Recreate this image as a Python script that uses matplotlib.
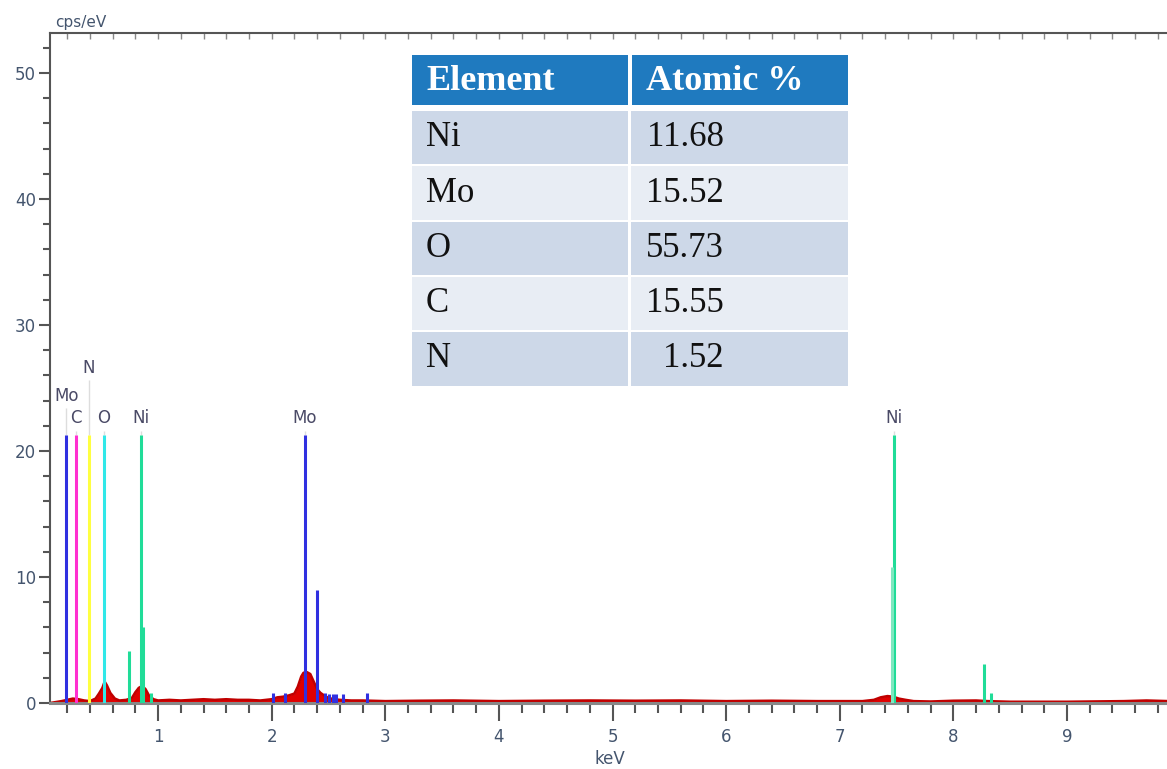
import matplotlib
matplotlib.use("Agg")
import matplotlib.pyplot as plt
from matplotlib.patches import Rectangle
from matplotlib.ticker import MultipleLocator

# ---------------- data ----------------
# continuum / measured spectrum (keV, cps/eV) read from the picture
spec_kev = [0.05, 0.15, 0.20, 0.25, 0.30, 0.35, 0.40, 0.45, 0.48, 0.51, 0.53, 0.55, 0.58, 0.62,
            0.66, 0.72, 0.77, 0.80, 0.83, 0.86, 0.89, 0.92, 0.96, 1.00, 1.10, 1.20, 1.30, 1.40,
            1.50, 1.60, 1.70, 1.80, 1.90, 2.00, 2.05, 2.10, 2.15, 2.20, 2.23, 2.26, 2.28, 2.31,
            2.34, 2.37, 2.40, 2.43, 2.47, 2.50, 2.55, 2.60, 2.70, 2.80, 3.00, 3.30, 3.60, 4.00,
            4.40, 4.80, 5.20, 5.60, 6.00, 6.40, 6.80, 7.20, 7.30, 7.36, 7.42, 7.47, 7.52, 7.58,
            7.65, 7.80, 8.00, 8.20, 8.30, 8.50, 9.00, 9.50, 9.70, 9.90]
spec_cps = [0.00, 0.15, 0.25, 0.35, 0.30, 0.20, 0.15, 0.35, 0.75, 1.20, 1.70, 1.40, 0.80, 0.35,
            0.20, 0.25, 0.40, 0.85, 1.20, 1.35, 1.10, 0.60, 0.30, 0.20, 0.25, 0.20, 0.25, 0.30,
            0.25, 0.30, 0.25, 0.25, 0.20, 0.30, 0.45, 0.50, 0.60, 0.75, 1.30, 2.10, 2.40, 2.45,
            2.30, 1.70, 1.10, 0.80, 0.55, 0.40, 0.30, 0.25, 0.20, 0.20, 0.15, 0.18, 0.20, 0.15,
            0.18, 0.20, 0.18, 0.20, 0.15, 0.18, 0.15, 0.15, 0.25, 0.45, 0.55, 0.50, 0.35, 0.25,
            0.15, 0.12, 0.18, 0.20, 0.15, 0.10, 0.10, 0.15, 0.20, 0.15]

# element marker lines
mark_kev = [0.193, 0.277, 0.392, 0.520, 0.851, 0.743, 0.869, 0.940,
            2.293, 2.395, 2.015, 2.120, 2.470, 2.505, 2.540, 2.570, 2.625, 2.835,
            7.478, 7.461, 8.265, 8.330]
mark_h = [21.3, 21.3, 21.3, 21.3, 21.3, 4.1, 6.0, 0.8,
          21.3, 9.0, 0.8, 0.8, 0.8, 0.7, 0.7, 0.7, 0.7, 0.8,
          21.3, 10.8, 3.1, 0.8]
mark_el = ["Mo", "C", "N", "O", "Ni", "Ni", "Ni", "Ni",
           "Mo", "Mo", "Mo", "Mo", "Mo", "Mo", "Mo", "Mo", "Mo", "Mo",
           "Ni", "Ni2", "Ni", "Ni"]

# peak labels
lab_text = ["Mo", "N", "C", "O", "Ni", "Mo", "Ni"]
lab_kev = [0.193, 0.392, 0.277, 0.520, 0.851, 2.293, 7.478]
lab_y = [24.4, 26.6, 22.6, 22.6, 22.6, 22.6, 22.6]

# table
tab_header = ["Element", "Atomic %"]
tab_elements = ["Ni", "Mo", "O", "C", "N"]
tab_atomic = ["11.68", "15.52", "55.73", "15.55", "1.52"]

# ---------------- style ----------------
el_color = {"Mo": "#3030e0", "C": "#ff30d0", "N": "#ffff40", "O": "#30e8e8",
            "Ni": "#20dc98", "Ni2": "#7fe8c0"}
tick_col = "#44556e"

W, H = 1167, 769
fig = plt.figure(figsize=(W / 100, H / 100), dpi=100)
ax = fig.add_axes([50 / W, (H - 703) / H, (W - 50) / W, (703 - 33) / H])

ax.set_xlim(0.049, 9.88)
ax.set_ylim(0, 53.17)

# spectrum
ax.fill_between(spec_kev, 0, spec_cps, color="#e00000", lw=0, zorder=2)
ax.plot(spec_kev, spec_cps, color="#c00000", lw=1.8, zorder=2)

# faint guide lines from main markers to labels
for k, y in zip(lab_kev, lab_y):
    ax.vlines(k, 21.3, y - 1.0, color="#dddddd", lw=1, zorder=1)

# marker lines
for k, h, e in zip(mark_kev, mark_h, mark_el):
    ax.vlines(k, 0, h, color=el_color[e], lw=2.2, zorder=3)

for t, k, y in zip(lab_text, lab_kev, lab_y):
    ax.text(k, y, t, ha="center", va="center", fontsize=12, color="#4a4a66",
            family="DejaVu Sans", zorder=4)

# spines / ticks
ax.spines["right"].set_visible(False)
ax.spines["left"].set_color("#555555")
ax.spines["left"].set_linewidth(1.5)
ax.spines["bottom"].set_color("#888888")
ax.spines["bottom"].set_linewidth(2.2)
ax.spines["top"].set_color("#555555")
ax.spines["top"].set_linewidth(1.5)

ax.xaxis.set_major_locator(MultipleLocator(1))
ax.xaxis.set_minor_locator(MultipleLocator(0.2))
ax.yaxis.set_major_locator(MultipleLocator(10))
ax.yaxis.set_minor_locator(MultipleLocator(2))
ax.tick_params(axis="x", which="major", direction="out", length=13, width=1.5,
               color="#555555", labelsize=12, labelcolor=tick_col, pad=5)
ax.tick_params(axis="x", which="minor", direction="out", length=7, width=1.5,
               color="#555555")
ax.tick_params(axis="y", which="major", direction="out", length=8, width=1.5,
               color="#555555", labelsize=12, labelcolor=tick_col, pad=2)
ax.tick_params(axis="y", which="minor", direction="out", length=5, width=1.5,
               color="#555555")
ax.set_xticks([1, 2, 3, 4, 5, 6, 7, 8, 9])

sec = ax.secondary_xaxis("top")
sec.xaxis.set_major_locator(MultipleLocator(0.2))
sec.tick_params(direction="in", length=4, width=1, color="#888888", labeltop=False)
sec.spines["top"].set_visible(False)

fig.text(610 / W, 1 - 759 / H, "keV", fontsize=12, color=tick_col, ha="center", va="center")
fig.text(55 / W, 1 - 22 / H, "cps/eV", fontsize=11, color=tick_col, ha="left", va="center")

# ---------------- table ----------------
def fx(x):
    return x / W

def fy(y):
    return 1 - y / H

def cell(x0, y0, x1, y1, c):
    fig.add_artist(Rectangle((fx(x0), fy(y1)), fx(x1) - fx(x0), fy(y0) - fy(y1),
                             transform=fig.transFigure, facecolor=c, edgecolor="none",
                             zorder=5))

hdr_col = "#1f7abf"
cell(412, 55, 628, 105, hdr_col)
cell(632, 55, 848, 105, hdr_col)
fig.text(fx(426), fy(82), tab_header[0], fontsize=26, fontweight="bold", color="white",
         family="Liberation Serif", ha="left", va="center", zorder=6)
fig.text(fx(646), fy(82), tab_header[1], fontsize=26, fontweight="bold", color="white",
         family="Liberation Serif", ha="left", va="center", zorder=6)

row_tops = [111, 166, 222, 277, 332]
row_bots = [164, 220, 275, 330, 386]
row_cols = ["#cdd8e8", "#e8edf4", "#cdd8e8", "#e8edf4", "#cdd8e8"]
for el, val, t, b, c in zip(tab_elements, tab_atomic, row_tops, row_bots, row_cols):
    cell(412, t, 628, b, c)
    cell(631, t, 848, b, c)
    yc = (t + b) / 2
    fig.text(fx(426), fy(yc), el, fontsize=25, color="#111111", family="Liberation Serif",
             ha="left", va="center", zorder=6)
    fig.text(fx(724), fy(yc), val, fontsize=25, color="#111111", family="Liberation Serif",
             ha="right", va="center", zorder=6)

fig.savefig("out.png", dpi=100, facecolor="white")
